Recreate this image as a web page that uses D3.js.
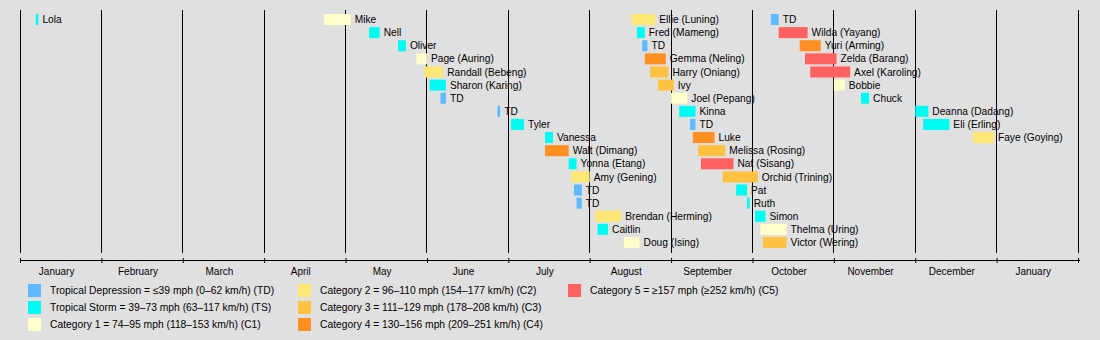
<!DOCTYPE html>
<html>
<head>
<meta charset="utf-8">
<script src="https://cdn.jsdelivr.net/npm/d3@7"></script>
<style>
  html, body { margin: 0; padding: 0; background: #e0e0e0; }
  svg { display: block; font-family: "Liberation Sans", Arial, Helvetica, sans-serif; }
</style>
</head>
<body>
<svg id="chart" width="1100" height="340"></svg>
<script>
const YEAR = 1991;
const monthLabels = ["January","February","March","April","May","June","July","August","September","October","November","December","January"];

const stormNames = ["Lola","Mike","Nell","Oliver","Page (Auring)","Randall (Bebeng)","Sharon (Karing)","TD","TD","Tyler",
  "Vanessa","Walt (Dimang)","Yonna (Etang)","Amy (Gening)","TD","TD","Brendan (Herming)","Caitlin","Doug (Ising)",
  "Ellie (Luning)","Fred (Mameng)","TD","Gemma (Neling)","Harry (Oniang)","Ivy","Joel (Pepang)","Kinna","TD","Luke",
  "Melissa (Rosing)","Nat (Sisang)","Orchid (Trining)","Pat","Ruth","Simon","Thelma (Uring)","Victor (Wering)",
  "TD","Wilda (Yayang)","Yuri (Arming)","Zelda (Barang)","Axel (Karoling)","Bobbie","Chuck","Deanna (Dadang)","Eli (Erling)","Faye (Goying)"];

const stormRows = [0,0,1,2,3,4,5,6,7,8,
  9,10,11,12,13,14,15,16,17,
  0,1,2,3,4,5,6,7,8,9,
  10,11,12,13,14,15,16,17,
  0,1,2,3,4,5,6,7,8,9];

const stormStarts = ["01-07","04-23","05-10","05-21","05-28","05-31","06-02","06-06","06-27","07-02",
  "07-15","07-15","07-24","07-25","07-26","07-27","08-03","08-04","08-14",
  "08-17","08-19","08-21","08-22","08-24","08-27","09-01","09-04","09-08","09-09",
  "09-11","09-12","09-20","09-25","09-29","10-02","10-04","10-05",
  "10-08","10-11","10-19","10-21","10-23","11-01","11-11","12-01","12-04","12-23"];

const stormEnds = ["01-08","05-03","05-14","05-24","06-01","06-07","06-08","06-08","06-28","07-07",
  "07-18","07-24","07-27","08-01","07-29","07-29","08-13","08-08","08-20",
  "08-26","08-22","08-23","08-30","08-31","09-02","09-07","09-10","09-10","09-17",
  "09-21","09-24","10-03","09-29","09-30","10-06","10-14","10-14",
  "10-11","10-22","10-27","11-02","11-07","11-05","11-14","12-06","12-14","12-31"];

const stormCats = ["TS","C1","TS","TS","C1","C2","TS","TD","TD","TS",
  "TS","C4","TS","C2","TD","TD","C2","TS","C1",
  "C2","TS","TD","C4","C3","C3","C1","TS","TD","C4",
  "C3","C5","C3","TS","TS","TS","C1","C3",
  "TD","C5","C4","C5","C5","C1","TS","TS","TS","C2"];

const catKeys = ["TD","TS","C1","C2","C3","C4","C5"];
const catColors = ["#5ebaff","#00faf4","#ffffcc","#ffe775","#ffc140","#ff8f20","#ff6060"];
const legendLabels = [
  "Tropical Depression = \u226439 mph (0\u201362 km/h) (TD)",
  "Tropical Storm = 39\u201373 mph (63\u2013117 km/h) (TS)",
  "Category 1 = 74\u201395 mph (118\u2013153 km/h) (C1)",
  "Category 2 = 96\u2013110 mph (154\u2013177 km/h) (C2)",
  "Category 3 = 111\u2013129 mph (178\u2013208 km/h) (C3)",
  "Category 4 = 130\u2013156 mph (209\u2013251 km/h) (C4)",
  "Category 5 = \u2265157 mph (\u2265252 km/h) (C5)"
];

// convert "MM-DD" to fractional month index (equal-width months)
function toMonths(s) {
  const [m, d] = s.split("-").map(Number);
  const dim = new Date(YEAR, m, 0).getDate();
  return (m - 1) + (d - 1) / dim;
}

const svg = d3.select("#chart");
const x = d3.scaleLinear().domain([0, 13]).range([20, 1078]);
const y = d3.scalePoint().domain(d3.range(18)).range([19.5, 242.5]);
const color = d3.scaleOrdinal().domain(catKeys).range(catColors);
const BAR_H = 11;

const storms = stormNames.map((n, i) => ({
  name: n, row: stormRows[i], s: toMonths(stormStarts[i]), e: toMonths(stormEnds[i]), cat: stormCats[i]
}));

// grid lines
svg.append("g").selectAll("line").data(d3.range(14)).join("line")
  .attr("x1", d => Math.floor(x(d)) + 0.5).attr("x2", d => Math.floor(x(d)) + 0.5)
  .attr("y1", 10).attr("y2", 253)
  .attr("stroke", "#000").attr("stroke-width", 1);

// bars
svg.append("g").selectAll("rect").data(storms).join("rect")
  .attr("x", d => x(d.s))
  .attr("width", d => Math.max(1, x(d.e) - x(d.s)))
  .attr("y", d => y(d.row) - BAR_H / 2)
  .attr("height", BAR_H)
  .attr("fill", d => color(d.cat));

// bar labels
svg.append("g").selectAll("text").data(storms).join("text")
  .attr("x", d => x(d.e) + 4)
  .attr("y", d => y(d.row) + 3.6)
  .attr("font-size", 10.2)
  .attr("fill", "#000")
  .text(d => d.name);

// axis
const axisG = svg.append("g").attr("transform", "translate(0,258)")
  .call(d3.axisBottom(x).tickValues(d3.range(14)).tickSize(5).tickFormat(""));
axisG.select(".domain").remove();
axisG.selectAll(".tick line").attr("stroke", "#000");
svg.append("line").attr("x1", 20).attr("x2", 1080).attr("y1", 260.5).attr("y2", 260.5)
  .attr("stroke", "#000").attr("stroke-width", 1);

svg.append("g").selectAll("text").data(monthLabels).join("text")
  .attr("x", (d, i) => x(i + 0.45))
  .attr("y", 275)
  .attr("text-anchor", "middle")
  .attr("font-size", 10)
  .attr("fill", "#000")
  .text(d => d);

// legend
const legCols = [28, 298, 568];
const legRows = [290.5, 307.5, 324.5];
const leg = svg.append("g").selectAll("g").data(catKeys).join("g")
  .attr("transform", (d, i) => `translate(${legCols[Math.floor(i / 3)]},${legRows[i % 3]})`);
leg.append("rect").attr("x", 0).attr("y", -6.5).attr("width", 13).attr("height", 13)
  .attr("fill", d => color(d));
leg.append("text").attr("x", 22).attr("y", 3.6).attr("font-size", 10.3).attr("fill", "#000")
  .text((d, i) => legendLabels[i]);
</script>
</body>
</html>
